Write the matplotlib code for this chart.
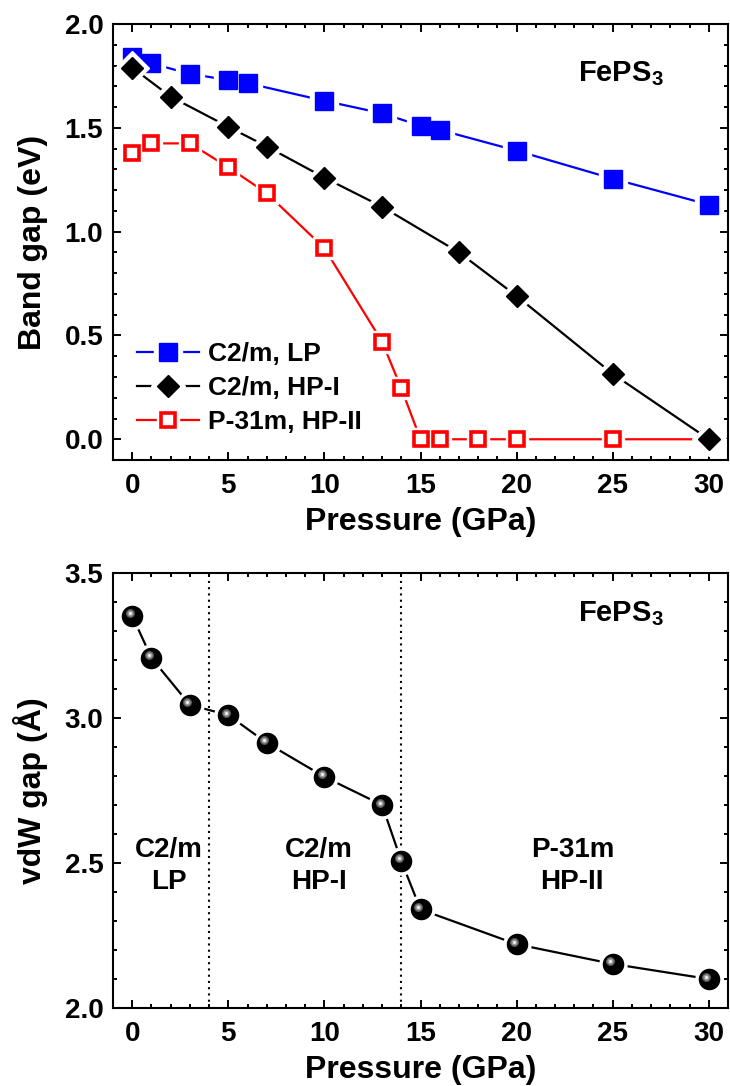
import matplotlib
matplotlib.use("Agg")
import matplotlib.pyplot as plt
import matplotlib.transforms as mtransforms
from matplotlib.legend_handler import HandlerTuple
from matplotlib.ticker import MultipleLocator

plt.rcParams['font.family'] = ['Liberation Sans', 'DejaVu Sans']
plt.rcParams['font.weight'] = 'bold'
plt.rcParams['axes.labelweight'] = 'bold'
plt.rcParams['mathtext.fontset'] = 'custom'
plt.rcParams['mathtext.rm'] = 'Liberation Sans:bold'
plt.rcParams['mathtext.bf'] = 'Liberation Sans:bold'
plt.rcParams['mathtext.default'] = 'bf'

# band gap vs pressure
p_lp = [0, 1, 3, 5, 6, 10, 13, 15, 16, 20, 25, 30]
gap_lp = [1.84, 1.81, 1.76, 1.73, 1.715, 1.63, 1.57, 1.51, 1.49, 1.39, 1.255, 1.13]
p_hp1 = [0, 2, 5, 7, 10, 13, 17, 20, 25, 30]
gap_hp1 = [1.79, 1.65, 1.505, 1.41, 1.26, 1.12, 0.90, 0.69, 0.315, 0.0]
p_hp2 = [0, 1, 3, 5, 7, 10, 13, 14, 15, 16, 18, 20, 25, 30]
gap_hp2 = [1.38, 1.425, 1.425, 1.31, 1.185, 0.92, 0.47, 0.245, 0, 0, 0, 0, 0, 0]

# vdW gap vs pressure
p_vdw = [0, 1, 3, 5, 7, 10, 13, 14, 15, 20, 25, 30]
vdw = [3.352, 3.207, 3.045, 3.01, 2.914, 2.797, 2.70, 2.507, 2.34, 2.22, 2.152, 2.10]
boundaries = [4, 14]
phase_labels = ['C2/m\nLP', 'C2/m\nHP-I', 'P-31m\nHP-II']
phase_x = [1.9, 9.7, 22.9]

fig = plt.figure(figsize=(7.3, 10.86), dpi=100)
ax1 = fig.add_axes([0.1548, 0.5764, 0.8425, 0.4015])
ax2 = fig.add_axes([0.1548, 0.0718, 0.8425, 0.4006])


def series(ax, x, y, color, marker, ms, filled, z, mew=1.0):
    ln, = ax.plot(x, y, '-', color=color, lw=1.6, zorder=z)
    halo, = ax.plot(x, y, ls='none', marker=marker, ms=ms + 6, mfc='white',
                    mec='white', zorder=z + 0.1)
    mk, = ax.plot(x, y, ls='none', marker=marker, ms=ms, mec=color,
                  mfc=color if filled else 'white', mew=mew, zorder=z + 0.2)
    return (ln, halo, mk)


h_hp2 = series(ax1, p_hp2, gap_hp2, 'red', 's', 10.5, False, 2, mew=2.6)
h_lp = series(ax1, p_lp, gap_lp, 'blue', 's', 13.5, True, 3)
h_hp1 = series(ax1, p_hp1, gap_hp1, 'black', 'D', 11.5, True, 4)

leg = ax1.legend([h_lp, h_hp1, h_hp2], ['C2/m, LP', 'C2/m, HP-I', 'P-31m, HP-II'],
                 handler_map={tuple: HandlerTuple(ndivide=1)},
                 loc='lower left', bbox_to_anchor=(0.039, 0.06), frameon=False,
                 fontsize=19, handlelength=2.35, handletextpad=0.35,
                 labelspacing=0.38, borderaxespad=0, borderpad=0)

ax1.set_xlim(-1, 31)
ax1.set_ylim(-0.1, 2.0)
ax1.yaxis.set_major_locator(MultipleLocator(0.5))
ax1.yaxis.set_minor_locator(MultipleLocator(0.1))
ax1.set_ylabel('Band gap (eV)', fontsize=23, labelpad=12)
ax1.text(25.4, 1.76, r'FePS$_3$', fontsize=21, ha='center', va='center')

# vdW gap with sphere-like markers
ax2.plot(p_vdw, vdw, '-', color='black', lw=1.6, zorder=2)
ax2.plot(p_vdw, vdw, ls='none', marker='o', ms=19.5, mfc='white', mec='white', zorder=3)
ax2.plot(p_vdw, vdw, ls='none', marker='o', ms=14.5, mfc='black', mec='black', zorder=4)
off = mtransforms.offset_copy(ax2.transData, fig=fig, x=-1.8, y=1.8, units='points')
ax2.plot(p_vdw, vdw, ls='none', marker='o', ms=6.5, mfc='#555555', mec='none',
         transform=off, zorder=5)
ax2.plot(p_vdw, vdw, ls='none', marker='o', ms=4.5, mfc='#9a9a9a', mec='none',
         transform=off, zorder=6)
ax2.plot(p_vdw, vdw, ls='none', marker='o', ms=2.2, mfc='#f0f0f0', mec='none',
         transform=off, zorder=7)
for b in boundaries:
    ax2.axvline(b, color='black', ls=(0, (1, 2)), lw=1.5, zorder=1)
for t, xx in zip(phase_labels, phase_x):
    ax2.text(xx, 2.49, t, fontsize=20, ha='center', va='center', linespacing=1.3)
ax2.text(25.4, 3.36, r'FePS$_3$', fontsize=21, ha='center', va='center')

ax2.set_xlim(-1, 31)
ax2.set_ylim(2.0, 3.5)
ax2.yaxis.set_major_locator(MultipleLocator(0.5))
ax2.yaxis.set_minor_locator(MultipleLocator(0.1))
ax2.set_ylabel('vdW gap (Å)', fontsize=23, labelpad=12)

for ax in (ax1, ax2):
    ax.xaxis.set_major_locator(MultipleLocator(5))
    ax.xaxis.set_minor_locator(MultipleLocator(1))
    ax.set_xlabel('Pressure (GPa)', fontsize=23, labelpad=6)
    ax.tick_params(which='both', direction='in', top=True, right=True,
                   labelsize=20, width=1.4)
    ax.tick_params(which='major', length=5.5)
    ax.tick_params(which='minor', length=3)
    ax.tick_params(axis='x', which='major', pad=9)
    ax.tick_params(axis='y', which='major', pad=7)
    for s in ax.spines.values():
        s.set_linewidth(1.5)

fig.savefig('out.png', dpi=100)
